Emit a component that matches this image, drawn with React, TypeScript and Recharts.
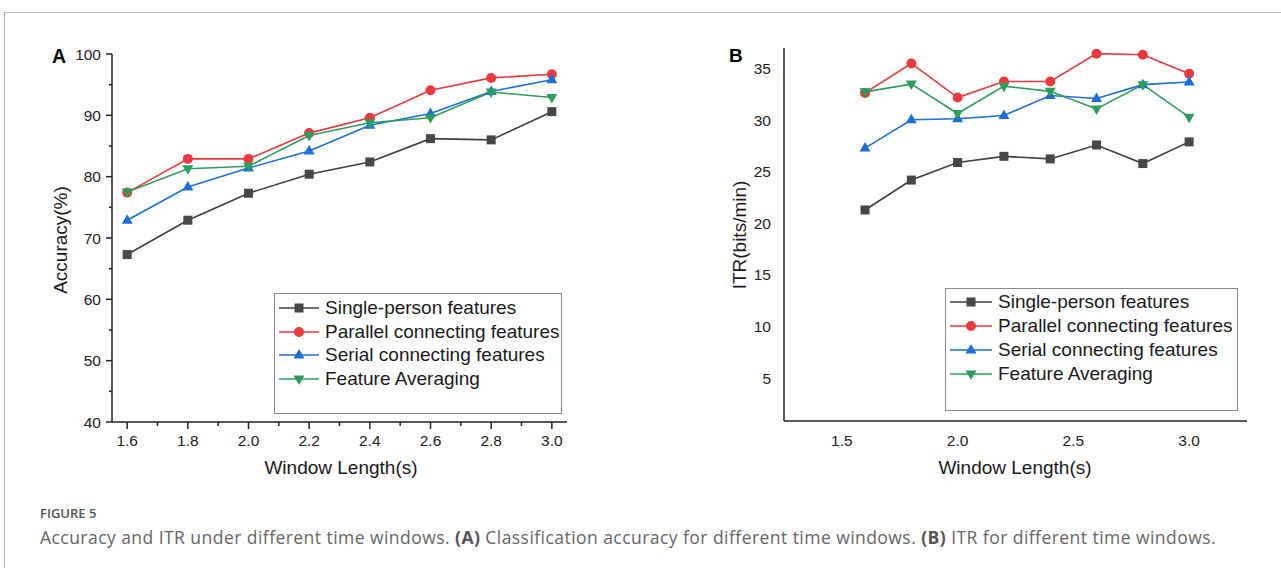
import React from 'react';
import { LineChart, Line, XAxis, YAxis } from 'recharts';

// window lengths (s)
const windowLengths = [1.6, 1.8, 2.0, 2.2, 2.4, 2.6, 2.8, 3.0];

// panel A - accuracy (%)
const accSingle = [67.3, 72.9, 77.3, 80.4, 82.4, 86.2, 86.0, 90.6];
const accParallel = [77.4, 82.9, 82.9, 87.1, 89.6, 94.1, 96.1, 96.7];
const accSerial = [72.9, 78.3, 81.4, 84.2, 88.4, 90.3, 93.9, 95.8];
const accAveraging = [77.5, 81.3, 81.7, 86.7, 88.8, 89.6, 93.8, 92.9];

// panel B - ITR (bits/min)
const itrSingle = [21.3, 24.2, 25.9, 26.5, 26.25, 27.6, 25.8, 27.9];
const itrParallel = [32.65, 35.5, 32.2, 33.75, 33.75, 36.45, 36.35, 34.5];
const itrSerial = [27.3, 30.05, 30.15, 30.45, 32.4, 32.1, 33.45, 33.7];
const itrAveraging = [32.75, 33.5, 30.65, 33.3, 32.8, 31.1, 33.45, 30.3];

const seriesNames = [
  'Single-person features',
  'Parallel connecting features',
  'Serial connecting features',
  'Feature Averaging',
];

// ticks
const accXMajor = [1.6, 1.8, 2.0, 2.2, 2.4, 2.6, 2.8, 3.0];
const accXMinor = [1.7, 1.9, 2.1, 2.3, 2.5, 2.7, 2.9];
const accYMajor = [40, 50, 60, 70, 80, 90, 100];
const accYMinor = [45, 55, 65, 75, 85, 95];
const itrXMajor = [1.5, 2.0, 2.5, 3.0];
const itrYMajor = [5, 10, 15, 20, 25, 30, 35];

const FONT = '"Liberation Sans", Arial, sans-serif';
const AXIS = '#222';

const series = [
  { key: 'single', color: '#3f3f3f', marker: '#474747', shape: 'square' },
  { key: 'parallel', color: '#e8383c', marker: '#ea3a3d', shape: 'circle' },
  { key: 'serial', color: '#1b6fd6', marker: '#1b6fd6', shape: 'up' },
  { key: 'averaging', color: '#2e9d5b', marker: '#2e9d5b', shape: 'down' },
];

const accData = windowLengths.map((w, i) => ({
  w,
  single: accSingle[i],
  parallel: accParallel[i],
  serial: accSerial[i],
  averaging: accAveraging[i],
}));

const itrData = windowLengths.map((w, i) => ({
  w,
  single: itrSingle[i],
  parallel: itrParallel[i],
  serial: itrSerial[i],
  averaging: itrAveraging[i],
}));

const Marker = ({ shape, cx, cy, color }: any) => {
  if (cx == null || cy == null) return null;
  const h = 5;
  if (shape === 'square') return <rect x={cx - 4.5} y={cy - 4.5} width={9} height={9} fill={color} />;
  if (shape === 'circle') return <circle cx={cx} cy={cy} r={h} fill={color} />;
  if (shape === 'up')
    return <polygon points={`${cx},${cy - 6} ${cx + 5.5},${cy + 3.5} ${cx - 5.5},${cy + 3.5}`} fill={color} />;
  return <polygon points={`${cx},${cy + 6} ${cx + 5.5},${cy - 3.5} ${cx - 5.5},${cy - 3.5}`} fill={color} />;
};

const isIn = (arr: number[], v: number) => arr.some((m) => Math.abs(m - v) < 1e-6);

const bottomTick = (majors: number[], majorLen: number, minorLen: number, dy: number) => (props: any) => {
  const { x, y, payload, index } = props;
  const major = isIn(majors, payload.value);
  const len = major ? majorLen : minorLen;
  return (
    <g key={`bt-${index}`}>
      {len > 0 && <line x1={x} x2={x} y1={y} y2={y + len} stroke={AXIS} strokeWidth={1.5} />}
      {major && (
        <text x={x} y={y + dy} textAnchor="middle" dominantBaseline="central" style={{ fontSize: 15.5, fontFamily: FONT }} fill="#222">
          {payload.value.toFixed(1)}
        </text>
      )}
    </g>
  );
};

const leftTick = (majors: number[], majorLen: number, minorLen: number, dx: number) => (props: any) => {
  const { x, y, payload, index } = props;
  const major = isIn(majors, payload.value);
  const len = major ? majorLen : minorLen;
  return (
    <g key={`lt-${index}`}>
      {len > 0 && <line x1={x - len} x2={x} y1={y} y2={y} stroke={AXIS} strokeWidth={1.5} />}
      {major && (
        <text x={x - dx} y={y} textAnchor="end" dominantBaseline="central" style={{ fontSize: 15.5, fontFamily: FONT }} fill="#222">
          {payload.value}
        </text>
      )}
    </g>
  );
};

// inward ticks on the top / right frame of panel A
const topTick = (props: any) => {
  const { x, y, index } = props;
  return <line key={`tt-${index}`} x1={x} x2={x} y1={y} y2={y + 4} stroke={AXIS} strokeWidth={1.5} />;
};
const rightTick = (props: any) => {
  const { x, y, index } = props;
  return <line key={`rt-${index}`} x1={x - 4} x2={x} y1={y} y2={y} stroke={AXIS} strokeWidth={1.5} />;
};

const renderLines = () =>
  series.map((s) => (
    <Line
      key={s.key}
      type="linear"
      dataKey={s.key}
      stroke={s.color}
      strokeWidth={1.6}
      isAnimationActive={false}
      dot={(p: any) => <Marker key={`${s.key}-${p.index}`} shape={s.shape} cx={p.cx} cy={p.cy} color={s.marker} />}
      activeDot={false}
    />
  ));

const LegendBox = ({ left, top, width, height, first, step, lineLeft, textLeft }: any) => (
  <div
    style={{
      position: 'absolute',
      left,
      top,
      width,
      height,
      border: '1px solid #8a8a8a',
      boxSizing: 'border-box',
      fontFamily: FONT,
      fontSize: 19,
      color: '#1a1a1a',
    }}
  >
    {series.map((s, i) => (
      <div key={s.key} style={{ position: 'absolute', left: 0, top: first + i * step - 12, height: 24, width: '100%' }}>
        <svg width={textLeft} height={24} style={{ position: 'absolute', left: 0, top: 0 }}>
          <line x1={lineLeft} x2={textLeft - 6} y1={12} y2={12} stroke={s.color} strokeWidth={1.6} />
          <Marker shape={s.shape} cx={(lineLeft + textLeft - 6) / 2} cy={12} color={s.marker} />
        </svg>
        <span style={{ position: 'absolute', left: textLeft, top: 0, lineHeight: '24px', whiteSpace: 'nowrap' }}>
          {seriesNames[i]}
        </span>
      </div>
    ))}
  </div>
);

const title = (text: string, x: number, y: number, rotate = false) => (
  <div
    style={{
      position: 'absolute',
      left: x,
      top: y,
      transform: `translate(-50%, -50%)${rotate ? ' rotate(-90deg)' : ''}`,
      fontFamily: FONT,
      fontSize: 19,
      color: '#1a1a1a',
      whiteSpace: 'nowrap',
    }}
  >
    {text}
  </div>
);

const App = () => (
  <div style={{ position: 'absolute', left: 0, top: 0, width: 1281, height: 568, overflow: 'hidden', background: '#fff' }}>
    <div
      style={{
        position: 'absolute',
        left: 4,
        top: 12,
        width: 1300,
        height: 600,
        borderTop: '1px solid #b4b4b4',
        borderLeft: '1px solid #b4b4b4',
      }}
    />

    {/* panel A */}
    <div style={{ position: 'absolute', left: 0, top: 0 }}>
      <LineChart width={600} height={480} data={accData} margin={{ top: 54, right: 33, left: 0, bottom: 28 }}>
        <XAxis
          dataKey="w"
          type="number"
          domain={[1.55, 3.05]}
          allowDataOverflow
          ticks={[...accXMajor, ...accXMinor]}
          interval={0}
          height={30}
          tickSize={0}
          tickMargin={0}
          tickLine={false}
          axisLine={{ stroke: AXIS, strokeWidth: 1.5 }}
          tick={bottomTick(accXMajor, 7, 4, 18)}
        />
        <XAxis
          xAxisId="top"
          dataKey="w"
          type="number"
          orientation="top"
          domain={[1.55, 3.05]}
          allowDataOverflow
          ticks={accXMinor}
          interval={0}
          height={0}
          tickSize={0}
          tickMargin={0}
          tickLine={false}
          axisLine={{ stroke: AXIS, strokeWidth: 1.5 }}
          tick={topTick}
        />
        <YAxis
          type="number"
          domain={[40, 100]}
          allowDataOverflow
          ticks={[...accYMajor, ...accYMinor]}
          interval={0}
          width={112}
          tickSize={0}
          tickMargin={0}
          tickLine={false}
          axisLine={{ stroke: AXIS, strokeWidth: 1.5 }}
          tick={leftTick(accYMajor, 6, 3, 11)}
        />
        <YAxis
          yAxisId="right"
          orientation="right"
          type="number"
          domain={[40, 100]}
          allowDataOverflow
          ticks={accYMinor}
          interval={0}
          width={0}
          tickSize={0}
          tickMargin={0}
          tickLine={false}
          axisLine={{ stroke: AXIS, strokeWidth: 1.5 }}
          tick={rightTick}
        />
        {renderLines()}
      </LineChart>
      <LegendBox left={274} top={293} width={288} height={121} first={14} step={23.7} lineLeft={4} textLeft={50} />
      {title('Accuracy(%)', 61, 240, true)}
      {title('Window Length(s)', 341, 468)}
      <div style={{ position: 'absolute', left: 52, top: 45, fontFamily: FONT, fontWeight: 700, fontSize: 19.5, color: '#000' }}>A</div>
    </div>

    {/* panel B */}
    <div style={{ position: 'absolute', left: 700, top: 0, width: 581, height: 480 }}>
      <LineChart width={580} height={480} data={itrData} margin={{ top: 48, right: 33, left: 0, bottom: 29 }}>
        <XAxis
          dataKey="w"
          type="number"
          domain={[1.25, 3.25]}
          allowDataOverflow
          ticks={itrXMajor}
          interval={0}
          height={30}
          tickSize={0}
          tickMargin={0}
          tickLine={false}
          axisLine={{ stroke: AXIS, strokeWidth: 1.5 }}
          tick={bottomTick(itrXMajor, 0, 0, 19)}
        />
        <XAxis
          xAxisId="top"
          dataKey="w"
          type="number"
          orientation="top"
          domain={[1.25, 3.25]}
          height={0}
          tick={false}
          tickLine={false}
          axisLine={{ stroke: AXIS, strokeWidth: 1.5 }}
        />
        <YAxis
          type="number"
          domain={[0.85, 37]}
          allowDataOverflow
          ticks={itrYMajor}
          interval={0}
          width={84}
          tickSize={0}
          tickMargin={0}
          tickLine={false}
          axisLine={{ stroke: AXIS, strokeWidth: 1.5 }}
          tick={leftTick(itrYMajor, 0, 0, 13)}
        />
        <YAxis
          yAxisId="right"
          orientation="right"
          type="number"
          domain={[0.85, 37]}
          width={0}
          tick={false}
          tickLine={false}
          axisLine={{ stroke: AXIS, strokeWidth: 1.5 }}
        />
        {renderLines()}
      </LineChart>
      <LegendBox left={245} top={288} width={293} height={123} first={13} step={24} lineLeft={4} textLeft={52} />
      {title('ITR(bits/min)', 40, 235, true)}
      {title('Window Length(s)', 315, 468)}
      <div style={{ position: 'absolute', left: 29, top: 45, fontFamily: FONT, fontWeight: 700, fontSize: 19, color: '#000' }}>B</div>
    </div>

    {/* caption */}
    <div
      style={{
        position: 'absolute',
        left: 40,
        top: 504,
        fontFamily: '"Open Sans", sans-serif',
        fontSize: 13,
        fontWeight: 600,
        color: '#555',
      }}
    >
      FIGURE 5
    </div>
    <div
      style={{
        position: 'absolute',
        left: 40,
        top: 525,
        fontFamily: '"Open Sans", sans-serif',
        fontSize: 17.5,
        letterSpacing: 0.45,
        color: '#666',
        whiteSpace: 'nowrap',
      }}
    >
      Accuracy and ITR under different time windows. <b style={{ color: '#555' }}>(A)</b> Classification accuracy for different
      time windows. <b style={{ color: '#555' }}>(B)</b> ITR for different time windows.
    </div>
  </div>
);

export default App;
